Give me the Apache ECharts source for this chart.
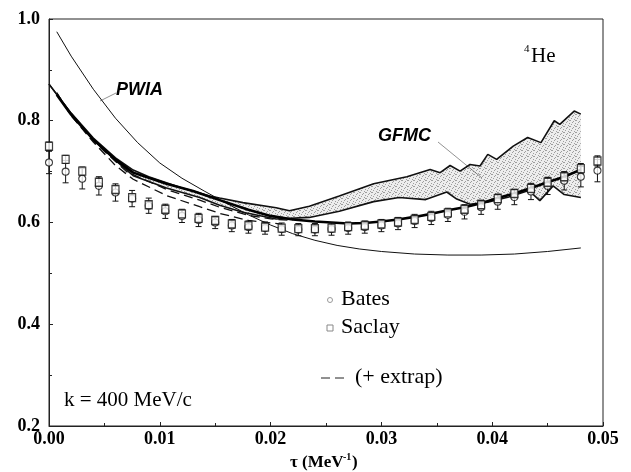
<!DOCTYPE html>
<html>
<head>
<meta charset="utf-8">
<script src="https://cdn.jsdelivr.net/npm/echarts@6/dist/echarts.min.js"></script>
<style>
html,body{margin:0;padding:0;background:#fff;}
#c{width:631px;height:472px;}
</style>
</head>
<body>
<div id="c"></div>
<script>
// ---- data ----
const tau = [0,0.0015,0.003,0.0045,0.006,0.0075,0.009,0.0105,0.012,0.0135,0.015,0.0165,0.018,0.0195,0.021,0.0225,0.024,0.0255,0.027,0.0285,0.030,0.0315,0.033,0.0345,0.036,0.0375,0.039,0.0405,0.042,0.0435,0.045,0.0465,0.048,0.0495];
const saclay = [0.750,0.724,0.701,0.679,0.665,0.649,0.635,0.626,0.617,0.608,0.604,0.597,0.594,0.591,0.589,0.588,0.588,0.589,0.592,0.594,0.597,0.601,0.606,0.612,0.619,0.626,0.635,0.647,0.657,0.667,0.679,0.690,0.706,0.721];
const saclayErr = [0.008,0.008,0.008,0.008,0.007,0.007,0.007,0.007,0.007,0.007,0.006,0.006,0.006,0.006,0.006,0.006,0.006,0.006,0.006,0.006,0.006,0.006,0.007,0.007,0.007,0.007,0.008,0.008,0.008,0.008,0.009,0.009,0.010,0.010];
const bates = [0.718,0.700,0.686,0.672,0.659,0.647,0.633,0.622,0.613,0.605,0.600,0.594,0.591,0.589,0.587,0.586,0.586,0.587,0.589,0.591,0.594,0.598,0.603,0.609,0.615,0.621,0.630,0.641,0.650,0.661,0.672,0.682,0.690,0.702];
const batesErr = [0.022,0.022,0.020,0.018,0.017,0.016,0.015,0.014,0.013,0.013,0.012,0.012,0.012,0.012,0.012,0.012,0.012,0.012,0.012,0.012,0.012,0.012,0.013,0.013,0.013,0.014,0.014,0.015,0.015,0.016,0.017,0.018,0.020,0.022];

const pwiaX = [0.0007,0.002,0.004,0.006,0.008,0.010,0.012,0.014,0.016,0.018,0.020,0.022,0.024,0.026,0.028,0.030,0.033,0.036,0.039,0.042,0.045,0.048];
const pwiaY = [0.975,0.927,0.862,0.805,0.757,0.717,0.687,0.662,0.638,0.615,0.595,0.578,0.565,0.555,0.548,0.543,0.538,0.536,0.536,0.538,0.543,0.550];

const gfmcUpX = [0,0.002,0.004,0.006,0.0076,0.009,0.0106,0.012,0.013,0.0145,0.0154,0.0175,0.0205,0.0217,0.0235,0.0262,0.0293,0.0323,0.0344,0.0353,0.0362,0.0371,0.038,0.0389,0.0396,0.0404,0.0419,0.0432,0.0444,0.0456,0.0461,0.0474,0.048];
const gfmcUpY = [0.872,0.815,0.766,0.727,0.703,0.690,0.678,0.668,0.662,0.652,0.648,0.639,0.629,0.623,0.632,0.652,0.676,0.690,0.704,0.698,0.712,0.701,0.714,0.711,0.734,0.724,0.750,0.767,0.757,0.800,0.793,0.819,0.813];
const gfmcLoX = [0,0.002,0.004,0.006,0.0076,0.0106,0.0136,0.0154,0.0175,0.0205,0.0235,0.0262,0.0293,0.0316,0.034,0.0359,0.0368,0.038,0.0396,0.0415,0.0433,0.0443,0.0455,0.0465,0.048];
const gfmcLoY = [0.872,0.814,0.763,0.722,0.692,0.668,0.649,0.634,0.620,0.607,0.610,0.622,0.641,0.649,0.645,0.660,0.646,0.636,0.640,0.650,0.663,0.643,0.672,0.655,0.649];

const dataX = [0.0007,0.002,0.004,0.006,0.0076,0.0106,0.013,0.0154,0.018,0.020,0.022,0.024,0.0255,0.027,0.0285,0.030,0.0315,0.033,0.0345,0.036,0.0375,0.039,0.0405,0.042,0.0435,0.045,0.0465,0.048];
const dataY = [0.851,0.812,0.763,0.724,0.698,0.676,0.662,0.644,0.625,0.613,0.606,0.602,0.600,0.598,0.599,0.602,0.606,0.611,0.617,0.624,0.630,0.638,0.648,0.657,0.668,0.679,0.690,0.704];

const ext1X = [0.0007,0.002,0.004,0.006,0.007,0.0106,0.0136,0.0154,0.018,0.020,0.022];
const ext1Y = [0.855,0.810,0.760,0.720,0.700,0.665,0.644,0.630,0.614,0.607,0.604];
const ext2X = [0.0007,0.002,0.004,0.006,0.0076,0.0106,0.0136,0.0154,0.018,0.020,0.021];
const ext2Y = [0.855,0.810,0.758,0.712,0.685,0.653,0.631,0.618,0.604,0.599,0.597];

const xTicks = [0,0.01,0.02,0.03,0.04,0.05];
const yTicks = [0.2,0.4,0.6,0.8,1.0];

// ---- build ----
const zip = (xs, ys) => xs.map((x,i)=>[x, ys[i]]);
const serif = '"Liberation Serif","Times New Roman",serif';
const sans = '"Liberation Sans",Arial,sans-serif';

function errRender(params, api){
  const x = api.value(0), y = api.value(1), e = api.value(2);
  const t = api.coord([x, y+e]), b = api.coord([x, y-e]);
  const w = 3;
  const st = {stroke:'#111', lineWidth:1};
  return {type:'group', children:[
    {type:'line', shape:{x1:t[0],y1:t[1],x2:b[0],y2:b[1]}, style:st},
    {type:'line', shape:{x1:t[0]-w,y1:t[1],x2:t[0]+w,y2:t[1]}, style:st},
    {type:'line', shape:{x1:b[0]-w,y1:b[1],x2:b[0]+w,y2:b[1]}, style:st}
  ]};
}

// fine stipple pattern for GFMC band
const pc = document.createElement('canvas');
pc.width = 6; pc.height = 6;
const pctx = pc.getContext('2d');
pctx.fillStyle = 'rgba(0,0,0,0.07)';
pctx.fillRect(0,0,6,6);
pctx.fillStyle = 'rgba(60,60,60,0.45)';
[[0,0],[3,1],[5,3],[1,4],[4,5],[2,2],[5,0]].forEach(p=>pctx.fillRect(p[0],p[1],1,1));

function bandRender(params, api){
  const pts = [];
  gfmcUpX.forEach((x,i)=>pts.push(api.coord([x, gfmcUpY[i]])));
  for (let i=gfmcLoX.length-1;i>=0;i--) pts.push(api.coord([gfmcLoX[i], gfmcLoY[i]]));
  return {type:'polygon', shape:{points:pts}, style:{fill:{image:pc, repeat:'repeat'}}};
}

const chart = echarts.init(document.getElementById('c'), null, {renderer:'canvas'});
const lineBase = {type:'line', showSymbol:false, symbol:'none', smooth:false, animation:false};

chart.setOption({
  animation:false,
  grid:{left:49, right:28, top:19, bottom:46, show:true, borderColor:'#222', borderWidth:1},
  xAxis:{type:'value', min:0, max:0.05, interval:0.01,
    axisLine:{show:true, lineStyle:{color:'#222', width:1}},
    axisTick:{show:true, inside:true, length:4, lineStyle:{color:'#222'}},
    minorTick:{show:true, splitNumber:2, length:3, lineStyle:{color:'#222'}},
    splitLine:{show:false},
    axisLabel:{color:'#000', fontFamily:serif, fontWeight:'bold', fontSize:18, margin:4,
      formatter:v=>v.toFixed(2)}},
  yAxis:{type:'value', min:0.2, max:1.0, interval:0.2,
    axisLine:{show:true, lineStyle:{color:'#222', width:1}},
    axisTick:{show:true, inside:true, length:4, lineStyle:{color:'#222'}},
    minorTick:{show:true, splitNumber:2, length:3, lineStyle:{color:'#222'}},
    splitLine:{show:false},
    axisLabel:{color:'#000', fontFamily:serif, fontWeight:'bold', fontSize:18, margin:9,
      formatter:v=>v.toFixed(1)}},
  series:[
    {type:'custom', renderItem:bandRender, data:[[0,0]], z:1, silent:true},
    Object.assign({}, lineBase, {name:'PWIA', data:zip(pwiaX,pwiaY), lineStyle:{color:'#111', width:1}, z:2}),
    Object.assign({}, lineBase, {name:'GFMC up', data:zip(gfmcUpX,gfmcUpY), lineStyle:{color:'#111', width:1.6}, z:2}),
    Object.assign({}, lineBase, {name:'GFMC lo', data:zip(gfmcLoX,gfmcLoY), lineStyle:{color:'#111', width:1.6}, z:2}),
    Object.assign({}, lineBase, {name:'data', data:zip(dataX,dataY), lineStyle:{color:'#000', width:2.6}, z:3}),
    Object.assign({}, lineBase, {name:'extrap1', data:zip(ext1X,ext1Y), lineStyle:{color:'#111', width:1.3, type:[9,5]}, z:2}),
    Object.assign({}, lineBase, {name:'extrap2', data:zip(ext2X,ext2Y), lineStyle:{color:'#111', width:1.3, type:[9,5]}, z:2}),
    {type:'custom', renderItem:errRender, data:tau.map((x,i)=>[x,bates[i],batesErr[i]]), z:4, silent:true},
    {type:'custom', renderItem:errRender, data:tau.map((x,i)=>[x,saclay[i],saclayErr[i]]), z:4, silent:true},
    {type:'scatter', name:'Bates', data:zip(tau,bates), symbol:'circle', symbolSize:7,
      itemStyle:{color:'#fff', borderColor:'#111', borderWidth:1.1}, z:5},
    {type:'scatter', name:'Saclay', data:zip(tau,saclay), symbol:'rect', symbolSize:[7,8],
      itemStyle:{color:'#fff', borderColor:'#111', borderWidth:1.3}, z:6}
  ],
  graphic:[
    {type:'text', left:64, top:390, style:{text:'k = 400 MeV/c', font:'21px '+serif, fill:'#000'}},
    {type:'text', left:524, top:44, style:{text:'4', font:'11px '+serif, fill:'#000'}},
    {type:'text', left:531, top:46, style:{text:'He', font:'21px '+serif, fill:'#000'}},
    {type:'text', left:116, top:81, style:{text:'PWIA', font:'italic bold 18px '+sans, fill:'#000'}},
    {type:'line', shape:{x1:100,y1:101,x2:116,y2:93}, style:{stroke:'#777', lineWidth:0.8}},
    {type:'text', left:378, top:127, style:{text:'GFMC', font:'italic bold 18px '+sans, fill:'#000'}},
    {type:'line', shape:{x1:438,y1:142,x2:482,y2:178}, style:{stroke:'#777', lineWidth:0.8}},
    {type:'circle', shape:{cx:330, cy:300, r:2.5}, style:{fill:'#fff', stroke:'#999', lineWidth:1}},
    {type:'text', left:341, top:288, style:{text:'Bates', font:'22px '+serif, fill:'#000'}},
    {type:'rect', shape:{x:327, y:325, width:6, height:6}, style:{fill:'#fff', stroke:'#888', lineWidth:1}},
    {type:'text', left:341, top:316, style:{text:'Saclay', font:'22px '+serif, fill:'#000'}},
    {type:'line', shape:{x1:321,y1:378,x2:330,y2:378}, style:{stroke:'#222', lineWidth:1}},
    {type:'line', shape:{x1:335,y1:378,x2:344,y2:378}, style:{stroke:'#222', lineWidth:1}},
    {type:'text', left:355, top:366, style:{text:'(+ extrap)', font:'22px '+serif, fill:'#000'}},
    {type:'text', left:290, top:454, style:{text:'τ (MeV', font:'bold 17px '+serif, fill:'#000'}},
    {type:'text', left:343, top:452, style:{text:'-1', font:'bold 10px '+serif, fill:'#000'}},
    {type:'text', left:352, top:454, style:{text:')', font:'bold 17px '+serif, fill:'#000'}}
  ]
});
</script>
</body>
</html>
